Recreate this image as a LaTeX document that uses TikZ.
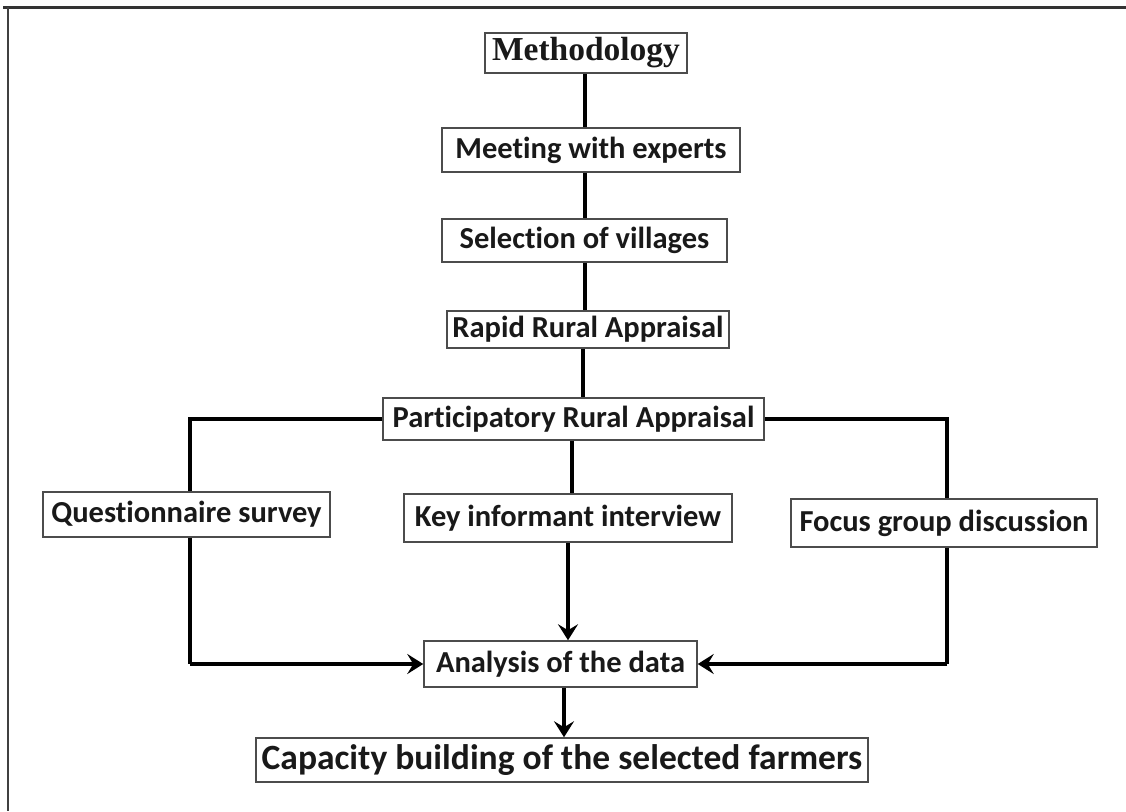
\documentclass[tikz,border=0pt]{standalone}
\usepackage{fontspec}
\newfontfamily\calfont{Carlito}[Ligatures=NoCommon]
\newfontfamily\timesfont{Liberation Serif}
\usetikzlibrary{arrows.meta,calc}
\begin{document}
\begin{tikzpicture}[x=1pt,y=-1pt,
  box/.style={draw=black!70, line width=1.5pt, fill=white, inner sep=0pt, anchor=center,
    font=\calfont\bfseries\fontsize{30.5}{33}\selectfont, text=black!90},
  conn/.style={line width=3.3pt, black},
  arr/.style={conn, -{Stealth[length=16pt,width=20pt,inset=6pt]}}]
\useasboundingbox (0,0) rectangle (1126,811);
\fill[white] (0,0) rectangle (1126,811);
% frame
\draw[line width=3pt, black!80] (3,7) -- (1126,7);
\draw[line width=2.2pt, black!75] (8,7) -- (8,811);
% nodes
\node[box, minimum width=202, minimum height=40, font=\timesfont\bfseries\fontsize{33.5}{35}\selectfont] (meth) at (586,53) {Methodology};
\node[box, minimum width=298, minimum height=44] (meet) at (591,150) {Meeting with experts};
\node[box, minimum width=285, minimum height=43] (sel) at (584.5,240.5) {Selection of villages};
\node[box, minimum width=282, minimum height=37] (rra) at (588,329.5) {Rapid Rural Appraisal};
\node[box, minimum width=381, minimum height=42] (pra) at (573.5,419) {Participatory Rural Appraisal};
\node[box, minimum width=287, minimum height=45] (qs) at (186.5,514.5) {Questionnaire survey};
\node[box, minimum width=328, minimum height=48] (kii) at (568,518) {Key informant interview};
\node[box, minimum width=306, minimum height=48] (fgd) at (944,523) {Focus group discussion};
\node[box, minimum width=273, minimum height=46] (ana) at (560.5,664) {Analysis of the data};
\node[box, minimum width=612, minimum height=44, font=\calfont\bfseries\fontsize{35.5}{38}\selectfont] (cap) at (562,760) {Capacity building of the selected farmers};
% helper coordinates
\coordinate (spine) at (585,0);
\coordinate (spinec) at (583,0);
\coordinate (spineb) at (572,0);
\coordinate (lx) at (190,0);
\coordinate (rx) at (947,0);
\coordinate (kx) at (568,0);
\coordinate (ax) at (564,0);
\coordinate (lc) at (190,664);
\coordinate (rc) at (947,664);
\coordinate (lt) at (190,419);
\coordinate (rt) at (947,419);
% connectors
\draw[conn] (meth.south -| spine) -- (meet.north -| spine);
\draw[conn] (meet.south -| spine) -- (sel.north -| spine);
\draw[conn] (sel.south -| spine) -- (rra.north -| spine);
\draw[conn] (rra.south -| spinec) -- (pra.north -| spinec);
\draw[conn] (pra.south -| spineb) -- (kii.north -| spineb);
\draw[conn] (pra.west) -- (lt) -- (qs.north -| lx);
\draw[conn] (pra.east) -- (rt) -- (fgd.north -| rx);
\draw[conn] (qs.south -| lx) -- (lc);
\draw[arr] (lc) -- (ana.west);
\draw[conn] (fgd.south -| rx) -- (rc);
\draw[arr] (rc) -- (ana.east);
\draw[arr] (kii.south -| kx) -- (ana.north -| kx);
\draw[arr] (ana.south -| ax) -- (cap.north -| ax);
\end{tikzpicture}
\end{document}
